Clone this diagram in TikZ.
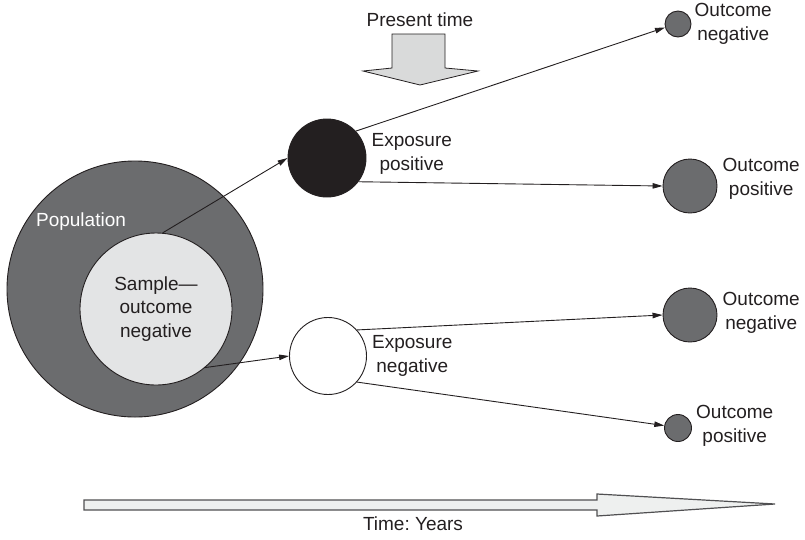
\documentclass[tikz,border=0pt]{standalone}
\usepackage{fontspec}
\setmainfont{Liberation Sans}
\usetikzlibrary{arrows.meta,positioning}
\definecolor{Ink}{HTML}{231F20}
\definecolor{Slate}{HTML}{6B6C6E}
\definecolor{Mist}{HTML}{E3E4E5}
\definecolor{Shade}{HTML}{D9DADA}
\definecolor{Pale}{HTML}{EEF0EF}
\definecolor{Rim}{HTML}{505052}
\frenchspacing

\begin{document}
\begin{tikzpicture}[x=1pt,y=-1pt,
  ball/.style={circle,draw=Ink,line width=0.9pt,inner sep=0pt},
  txt/.style={font=\fontsize{19}{23.5}\selectfont,text=Ink,align=center,inner sep=0pt},
  link/.style={Ink,line width=0.9pt,-{Triangle[length=10pt,width=5.5pt]}}]
  \useasboundingbox (0,0) rectangle (805,539);
  % population and sample
  \node[ball,fill=Slate,minimum size=256pt] (pop) at (135,289) {};
  \node[txt,text=white] (poplbl) at (81,222) {Population};
  \node[ball,txt,fill=Mist,minimum size=152pt] (sample) at (156,309) {Sample—\\outcome\\negative};
  % exposure groups
  \node[ball,fill=Ink,minimum size=78pt] (exppos) at (327,158) {};
  \node[txt,right=5pt of exppos,yshift=4pt] (expposlbl) {Exposure\\positive};
  \node[ball,fill=white,minimum size=77pt] (expneg) at (328,356) {};
  \node[txt,right=5pt of expneg] (expneglbl) {Exposure\\negative};
  % outcomes
  \node[ball,fill=Slate,minimum size=26pt] (outnegA) at (678,24) {};
  \node[txt,right=3pt of outnegA] (outnegAlbl) {Outcome\\negative};
  \node[ball,fill=Slate,minimum size=54pt] (outposA) at (690,186) {};
  \node[txt,right=5pt of outposA,yshift=7pt] (outposAlbl) {Outcome\\positive};
  \node[ball,fill=Slate,minimum size=54pt] (outnegB) at (690,315) {};
  \node[txt,right=5pt of outnegB,yshift=2pt] (outnegBlbl) {Outcome\\negative};
  \node[ball,fill=Slate,minimum size=27pt] (outposB) at (678,428) {};
  \node[txt,right=4pt of outposB,yshift=2pt] (outposBlbl) {Outcome\\positive};
  % connectors
  \draw[link] (sample.85) -- (exppos.west);
  \draw[link] (sample.-50) -- (expneg.west);
  \draw[link] (exppos.43) -- (outnegA.195);
  \draw[link] (exppos.-37) -- (outposA.west);
  \draw[link] (expneg.42) -- (outnegB.west);
  \draw[link] (expneg.-42) -- (outposB.170);
  % present time
  \node[txt] (nowlbl) at (420,20) {Present time};
  \draw[Ink,line width=0.8pt,fill=Shade] (392,34) -- (445,34) -- (445,68) -- (478,71)
    -- (420,85) -- (363,71) -- (392,68) -- cycle;
  % time axis
  \draw[Rim,line width=1.2pt,fill=Pale] (84,500) -- (597,500) -- (597,494) -- (775,504)
    -- (597,516) -- (597,510) -- (84,510) -- cycle;
  \node[txt] (timelbl) at (413,524) {Time: Years};
\end{tikzpicture}
\end{document}
